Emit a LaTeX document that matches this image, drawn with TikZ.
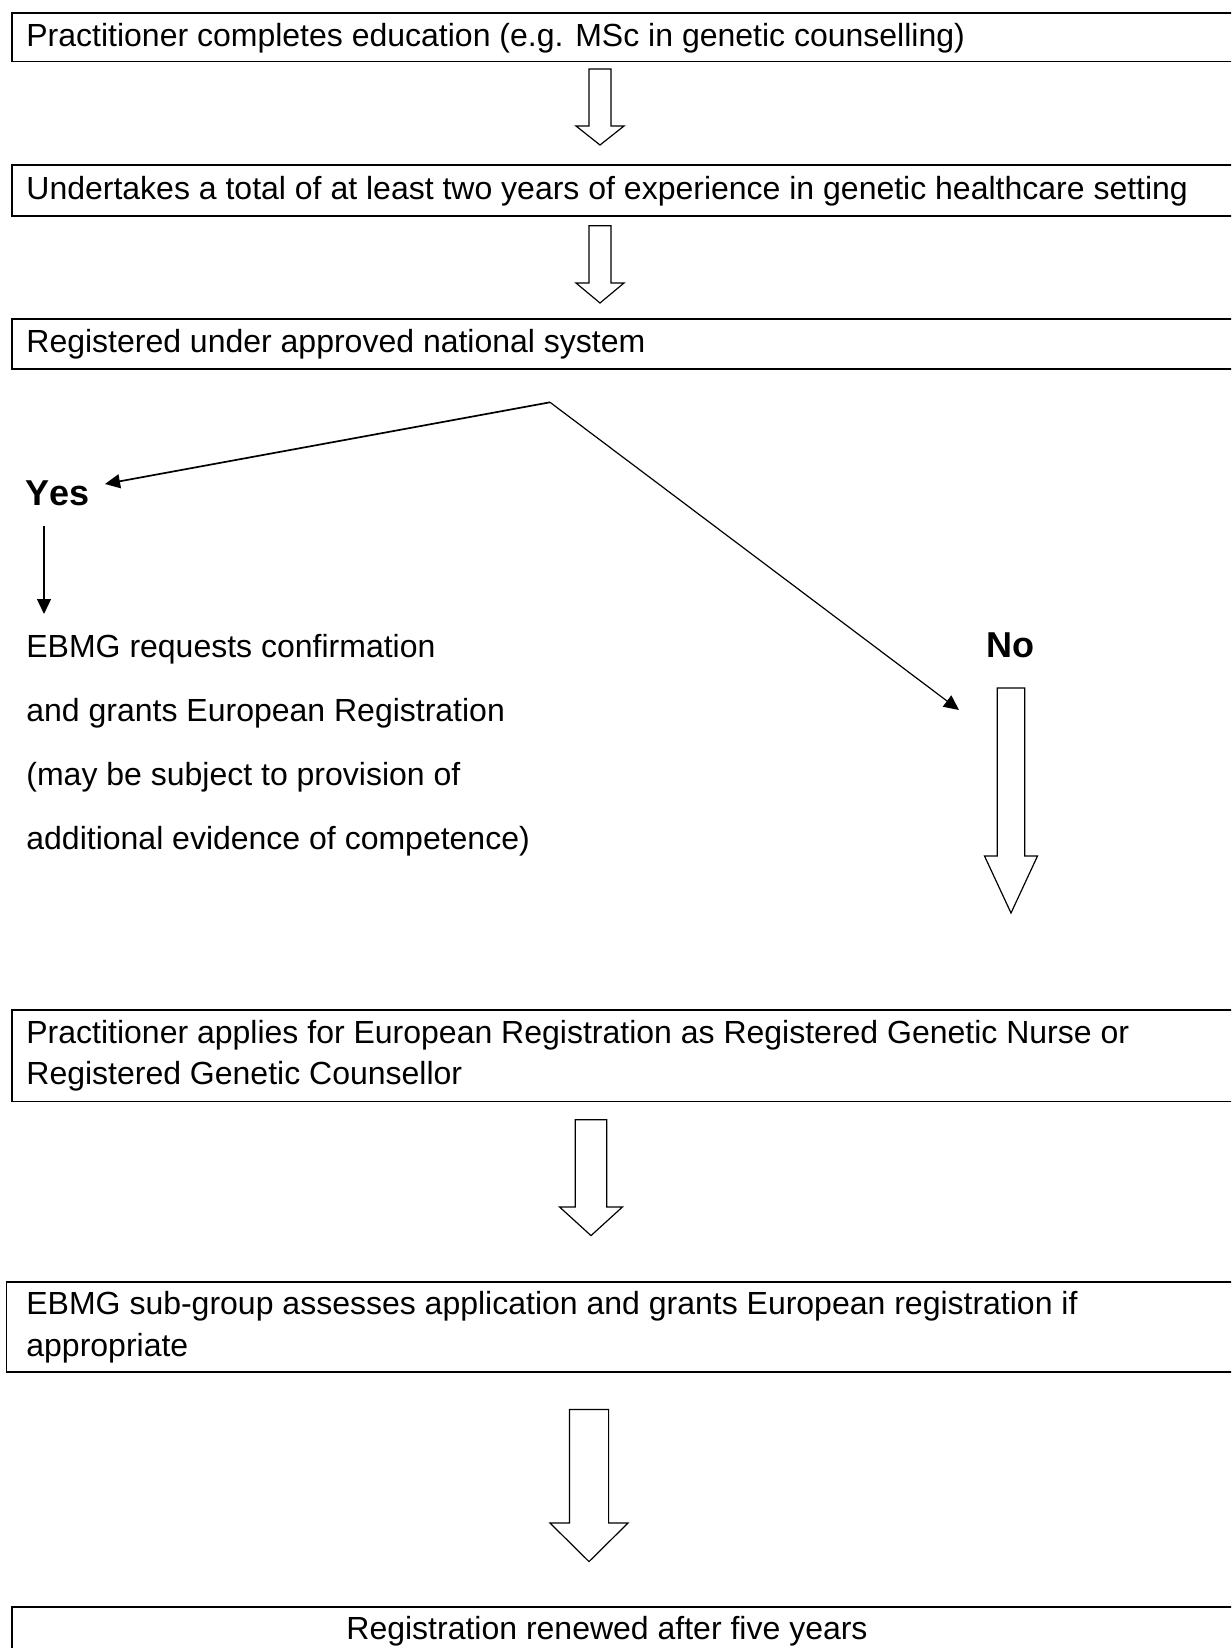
\documentclass[tikz,border=0pt]{standalone}
\usepackage{fontspec}
\setmainfont{Liberation Sans}[Kerning=Off]
\usetikzlibrary{arrows.meta}
\newcommand\blockarr[6]{%
  \draw[hollow] ({#1-#2},#4) -- ({#1-#2},#5) -- ({#1-#3},#5) -- (#1,#6) -- ({#1+#3},#5) -- ({#1+#2},#5) -- ({#1+#2},#4) -- cycle;}
\begin{document}
\begin{tikzpicture}[x=0.5pt,y=-0.5pt,
  boxline/.style={draw=black,line width=0.9pt,anchor=north west,inner sep=0pt,minimum width=644.5pt},
  txt/.style={anchor=base west,inner sep=0pt,font=\fontsize{16pt}{19pt}\selectfont},
  ctxt/.style={anchor=base,inner sep=0pt,font=\fontsize{16pt}{19pt}\selectfont},
  bigtxt/.style={anchor=base west,inner sep=0pt,font=\fontsize{18pt}{21pt}\selectfont\bfseries},
  hollow/.style={draw=black,line width=0.6pt,fill=white,line join=miter},
  conn/.style={draw=black,-{Triangle[length=7.5pt,width=7pt]}}]
\useasboundingbox (0,0) rectangle (1231,1648);
\clip (0,0) rectangle (1231,1648);
% boxes
\node[boxline,minimum height=24.35pt] (b1) at (11,12) {};
\node[boxline,minimum height=25.5pt] (b2) at (11,164) {};
\node[boxline,minimum height=25pt] (b3) at (11,317.7) {};
\node[boxline,minimum height=45.8pt] (b4) at (11,1009) {};
\node[boxline,minimum height=45.1pt,minimum width=647.25pt] (b5) at (5.5,1280.8) {};
\node[boxline,minimum height=46.85pt] (b6) at (11,1606.3) {};
% box texts
\node[txt] (t1) at (26,46.5) {Practitioner completes education (e.g. MSc in genetic counselling)};
\node[txt] (t2) at (26,199.5) {Undertakes a total of at least two years of experience in genetic healthcare setting};
\node[txt] (t3) at (26,352.7) {Registered under approved national system};
\node[txt] (t4a) at (26,1043) {Practitioner applies for European Registration as Registered Genetic Nurse or};
\node[txt] (t4b) at (26,1084.5) {Registered Genetic Counsellor};
\node[txt] (t5a) at (26,1314.5) {EBMG sub-group assesses application and grants European registration if};
\node[txt] (t5b) at (26,1356) {appropriate};
\node[ctxt] (t6) at (607,1639.5) {Registration renewed after five years};
% yes / no
\node[bigtxt] (yes) at (25.5,505) {Yes};
\node[bigtxt] (no) at (986.5,657.6) {No};
\node[txt] (y1) at (26,657.6) {EBMG requests confirmation};
\node[txt] (y2) at (26,721.4) {and grants European Registration};
\node[txt] (y3) at (26,785.2) {(may be subject to provision of};
\node[txt] (y4) at (26,849) {additional evidence of competence)};
% block arrows
\blockarr{600}{11}{24}{69}{126}{145}
\blockarr{600}{11}{24}{225.7}{283}{303}
\blockarr{1011}{13.7}{26.5}{688}{856}{913}
\blockarr{591}{15.7}{31.4}{1119.7}{1207}{1235.6}
\blockarr{589}{19.6}{39}{1409.5}{1523}{1561.6}
% connectors
\coordinate (apex) at (550,402.3);
\coordinate (yestip) at (105,484);
\coordinate (notip) at (959,710);
\coordinate (ystart) at (44,526);
\coordinate (yend) at (44,614);
\draw[conn,line width=0.85pt] (apex) -- (yestip);
\draw[conn,line width=0.6pt,line join=miter] (apex) -- (notip);
\draw[conn,line width=0.65pt] (ystart) -- (yend);
\end{tikzpicture}
\end{document}
